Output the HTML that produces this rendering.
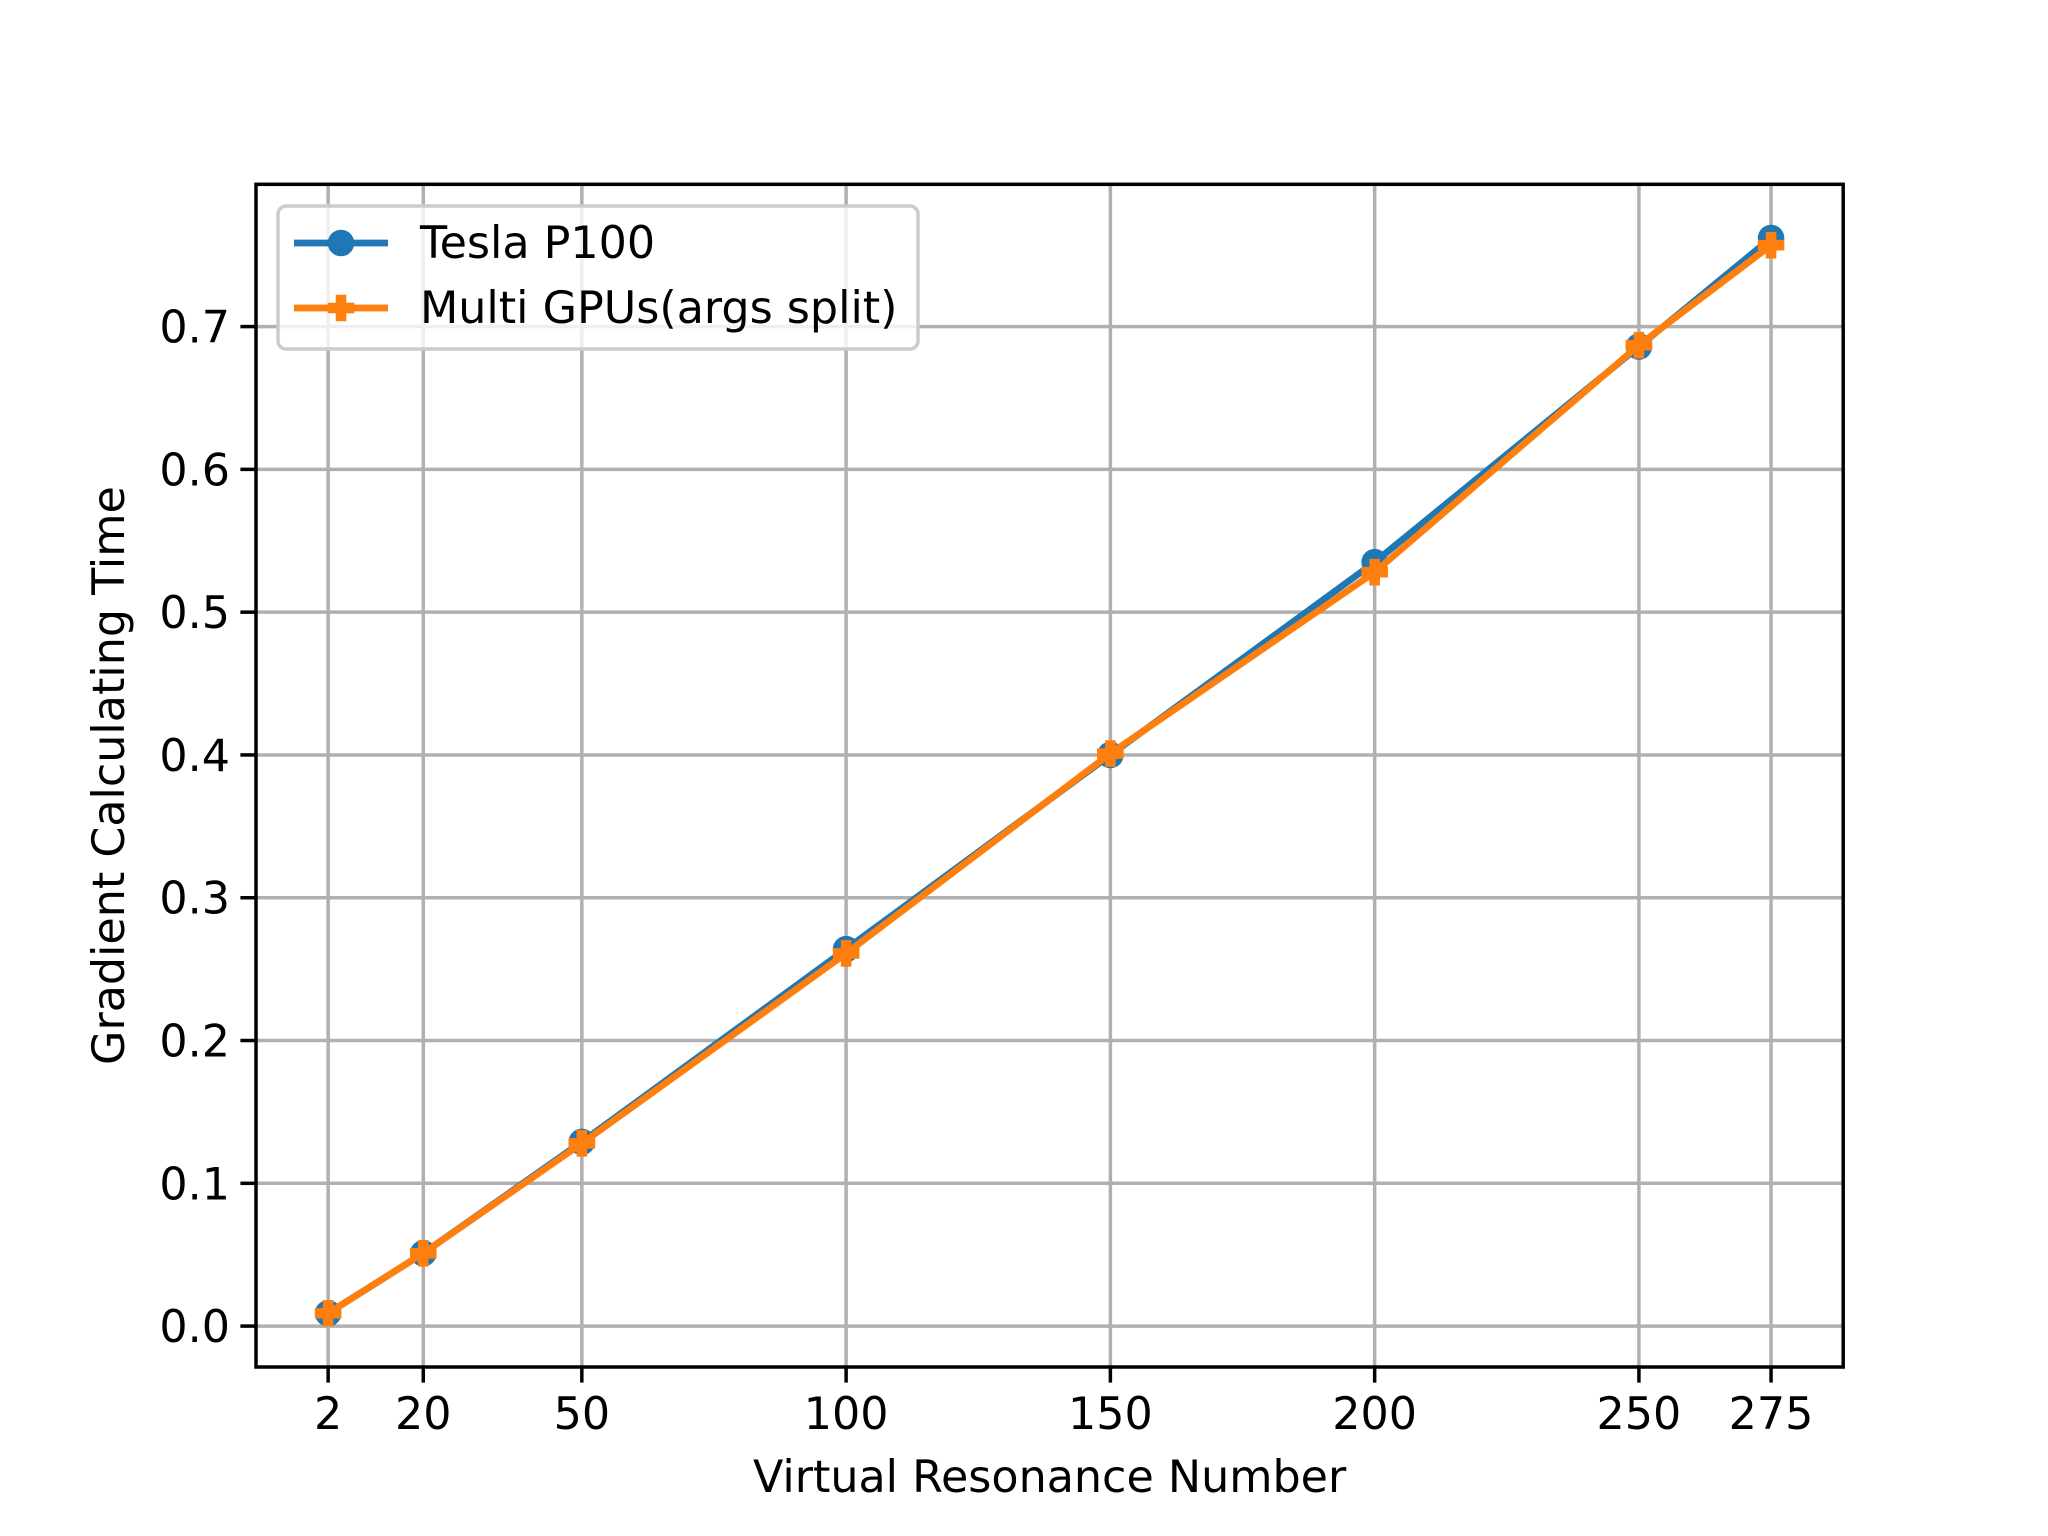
<!DOCTYPE html>
<html><head><meta charset="utf-8"><style>
html,body{margin:0;padding:0;background:#fff}
svg{display:block;font-family:"DejaVu Sans","Liberation Sans",sans-serif}
</style></head><body>
<svg id="chart" width="2048" height="1536" viewBox="0 0 2048 1536" xmlns="http://www.w3.org/2000/svg">
<rect width="2048" height="1536" fill="#fff"/>
<g id="grid"></g>
<g id="series"></g>
<rect x="256" y="184.3" width="1587.2" height="1182.7" fill="none" stroke="#000" stroke-width="3.5"/>
<g id="ticks"></g>
<text x="1049.6" y="1492" text-anchor="middle" font-size="44.4">Virtual Resonance Number</text>
<text transform="translate(124,775.6) rotate(-90)" text-anchor="middle" font-size="44.4">Gradient Calculating Time</text>
<g>
<rect x="278" y="206" width="640" height="143" rx="8" fill="#fff" fill-opacity="0.8" stroke="#cccccc" stroke-width="3.5"/>
<g>
<line x1="294" y1="243" x2="388" y2="243" stroke="#1f77b4" stroke-width="6.7"/>
<circle cx="341" cy="243" r="13.3" fill="#1f77b4"/>
<text x="420" y="258" font-size="44.4">Tesla P100</text>
</g>
<g>
<line x1="294" y1="308" x2="388" y2="308" stroke="#ff7f0e" stroke-width="6.7"/>
<path d="M335.7,294.7h10.6v8h8v10.6h-8v8h-10.6v-8h-8v-10.6h8z" fill="#ff7f0e"/>
<text x="420" y="323" font-size="44.4">Multi GPUs(args split)</text>
</g>
</g>
</svg>
<script>
const categories = [2, 20, 50, 100, 150, 200, 250, 275];
const teslaValues = [0.009, 0.051, 0.129, 0.264, 0.400, 0.535, 0.686, 0.762];
const multiValues = [0.009, 0.051, 0.128, 0.261, 0.401, 0.528, 0.687, 0.757];
const yTicks = [0.0, 0.1, 0.2, 0.3, 0.4, 0.5, 0.6, 0.7];
const yTickLabels = ["0.0","0.1","0.2","0.3","0.4","0.5","0.6","0.7"];

const L=256,R=1843.2,T=184.3,B=1367;
const allX=categories, allY=teslaValues.concat(multiValues);
const xmin0=Math.min(...allX), xmax0=Math.max(...allX);
const ymin0=Math.min(...allY), ymax0=Math.max(...allY);
const xm=(xmax0-xmin0)*0.05, ym=(ymax0-ymin0)*0.05;
const xMin=xmin0-xm, xMax=xmax0+xm, yMin=ymin0-ym, yMax=ymax0+ym;
const sx=v=>L+(v-xMin)/(xMax-xMin)*(R-L);
const sy=v=>B-(v-yMin)/(yMax-yMin)*(B-T);
const NS="http://www.w3.org/2000/svg";
function mk(tag,attrs,parent){const e=document.createElementNS(NS,tag);for(const k in attrs)e.setAttribute(k,attrs[k]);parent.appendChild(e);return e;}
const grid=document.getElementById('grid'), ticks=document.getElementById('ticks'), series=document.getElementById('series');
categories.forEach((c)=>{
  const x=sx(c);
  const g=mk('line',{x1:x,x2:x,y1:T,y2:B,stroke:'#b0b0b0','stroke-width':3.5},grid);
  
  
  const t=mk('line',{x1:x,x2:x,y1:B,y2:B+15.6,stroke:'#000','stroke-width':3.5},ticks);
  
  
  const l=mk('text',{x:x,y:B+62,'text-anchor':'middle','font-size':44.4},ticks);
  l.textContent=String(c);
  
  
});
yTicks.forEach((v,i)=>{
  const y=sy(v);
  const g=mk('line',{x1:L,x2:R,y1:y,y2:y,stroke:'#b0b0b0','stroke-width':3.5},grid);
  
  
  const t=mk('line',{x1:L-15.6,x2:L,y1:y,y2:y,stroke:'#000','stroke-width':3.5},ticks);
  
  
  const l=mk('text',{x:L-26,y:y+16,'text-anchor':'end','font-size':44.4},ticks);
  l.textContent=yTickLabels[i];
  
  
});
function drawSeries(vals,color,marker,name){
  const pts=categories.map((c,i)=>sx(c)+','+sy(vals[i])).join(' ');
  const pl=mk('polyline',{points:pts,fill:'none',stroke:color,'stroke-width':6.7,'stroke-linejoin':'round'},series);
  
  
  categories.forEach((c,i)=>{
    const x=sx(c),y=sy(vals[i]);
    let m;
    if(marker==='o') m=mk('circle',{cx:x,cy:y,r:13.3,fill:color},series);
    else m=mk('path',{d:`M${x-5.3},${y-13.3}h10.6v8h8v10.6h-8v8h-10.6v-8h-8v-10.6h8z`,fill:color},series);
    
    
  });
}
drawSeries(teslaValues,'#1f77b4','o','tesla-p100');
drawSeries(multiValues,'#ff7f0e','P','multi-gpus');
</script>
</body></html>
